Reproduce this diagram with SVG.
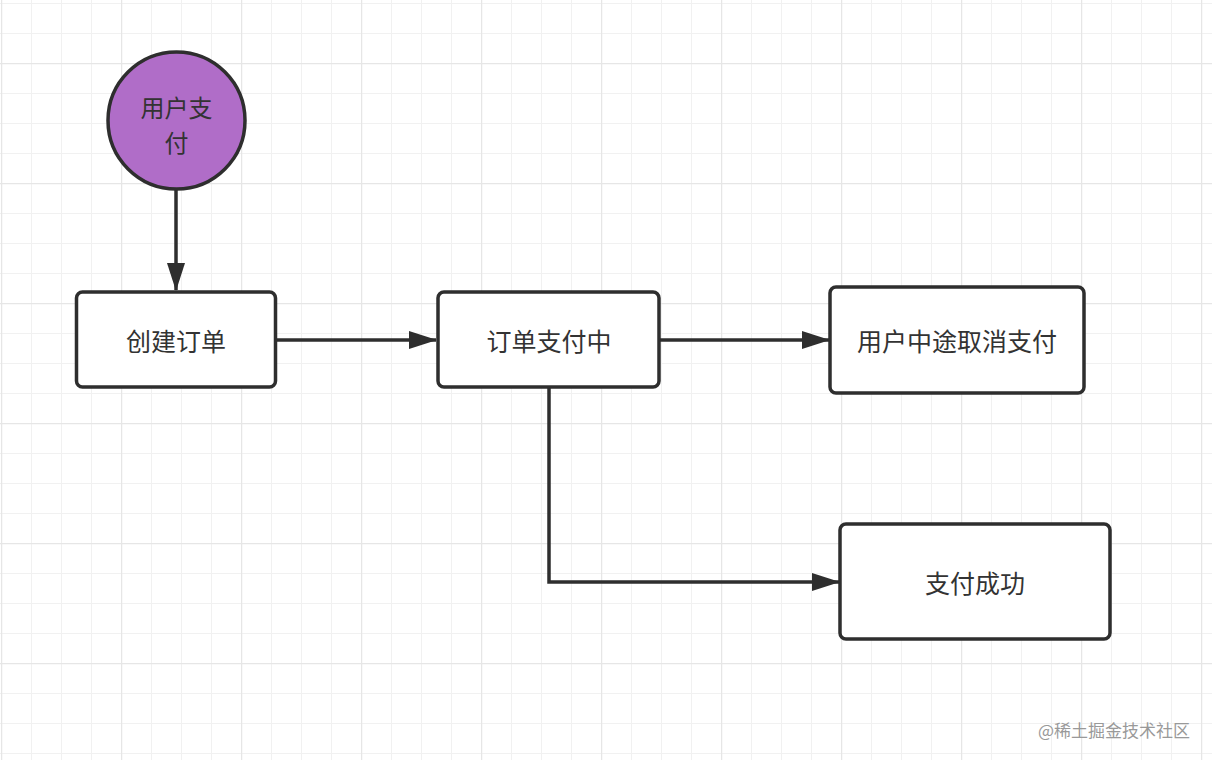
<svg xmlns="http://www.w3.org/2000/svg" width="1212" height="760" viewBox="0 0 1212 760">
<defs>
<pattern id="minor" x="1" y="3" width="30" height="30" patternUnits="userSpaceOnUse">
<path d="M0,0 H30 M0,0 V30" fill="none" stroke="#f1f1f1" stroke-width="2"/>
</pattern>
<pattern id="major" x="1" y="63" width="120" height="120" patternUnits="userSpaceOnUse">
<path d="M0,0 H120 M0,0 V120" fill="none" stroke="#e6e6e6" stroke-width="2.5"/>
</pattern>
<marker id="arrow" markerUnits="userSpaceOnUse" markerWidth="28" markerHeight="18" refX="27" refY="9" orient="auto">
<path d="M0,0 L28,9 L0,18 z" fill="#2e2e2e"/>
</marker>
</defs>
<style>
.box{fill:#ffffff;stroke:#2e2e2e;stroke-width:3.5}
.lbl{font-family:"Noto Sans CJK SC","Noto Sans",sans-serif;font-size:25px;fill:#333333;text-anchor:middle;dominant-baseline:central}
.clbl{font-family:"Noto Sans CJK SC","Noto Sans",sans-serif;font-size:24px;fill:#333333;text-anchor:middle;dominant-baseline:central}
.edge{fill:none;stroke:#2e2e2e;stroke-width:3.5}
.wm{font-family:"Noto Sans CJK SC","Noto Sans",sans-serif;font-size:17px;fill:#999999;text-anchor:end;dominant-baseline:central}
</style>
<rect width="1212" height="760" fill="#ffffff"/>
<rect width="1212" height="760" fill="url(#minor)"/>
<rect width="1212" height="760" fill="url(#major)"/>
<g id="connectors">
<path class="edge" d="M176,188 V290" marker-end="url(#arrow)"/>
<path class="edge" d="M277,340 H436" marker-end="url(#arrow)"/>
<path class="edge" d="M660,340 H829" marker-end="url(#arrow)"/>
<path class="edge" d="M549,388 V582 H839" marker-end="url(#arrow)"/>
</g>
<g id="node-start">
<circle cx="176.5" cy="120.5" r="68.5" fill="#b06dc8" stroke="#2e2e2e" stroke-width="3.5"/>
<text class="clbl" x="176.5" y="106"><tspan x="176.5" y="106">用户支</tspan><tspan x="176.5" y="141">付</tspan></text>
</g>
<g id="node-create">
<rect class="box" x="76.5" y="292" width="199" height="95" rx="6"/>
<text class="lbl" x="176" y="340">创建订单</text>
</g>
<g id="node-paying">
<rect class="box" x="438" y="292" width="221" height="95" rx="6"/>
<text class="lbl" x="549" y="340">订单支付中</text>
</g>
<g id="node-cancel">
<rect class="box" x="830" y="287" width="254" height="106" rx="6"/>
<text class="lbl" x="957" y="340">用户中途取消支付</text>
</g>
<g id="node-success">
<rect class="box" x="840" y="524" width="270" height="115" rx="6"/>
<text class="lbl" x="975" y="582">支付成功</text>
</g>
<text class="wm" x="1190" y="729">@稀土掘金技术社区</text>
</svg>
